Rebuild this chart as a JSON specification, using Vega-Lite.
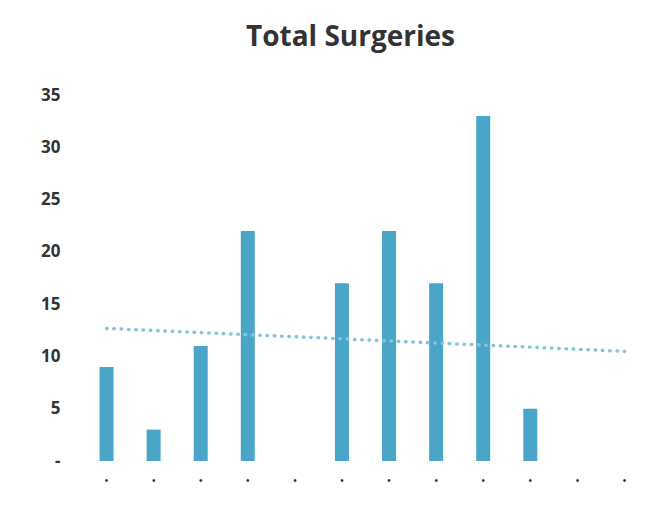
{
  "$schema": "https://vega.github.io/schema/vega-lite/v6.json",
  "width": 565,
  "height": 366,
  "autosize": {"type": "none"},
  "padding": {"left": 83, "top": 95, "right": 21, "bottom": 45},
  "background": "white",
  "config": {"view": {"stroke": null}},
  "title": {
    "text": "Total Surgeries",
    "font": "Open Sans",
    "fontSize": 28,
    "fontWeight": "bold",
    "color": "#333333",
    "anchor": "middle",
    "dx": -15,
    "offset": 34
  },
  "data": {
    "values": [
      {"m": 1, "surgeries": 9},
      {"m": 2, "surgeries": 3},
      {"m": 3, "surgeries": 11},
      {"m": 4, "surgeries": 22},
      {"m": 5, "surgeries": 0},
      {"m": 6, "surgeries": 17},
      {"m": 7, "surgeries": 22},
      {"m": 8, "surgeries": 17},
      {"m": 9, "surgeries": 33},
      {"m": 10, "surgeries": 5},
      {"m": 11, "surgeries": 0},
      {"m": 12, "surgeries": 0}
    ]
  },
  "encoding": {
    "x": {
      "field": "m",
      "type": "ordinal",
      "scale": {"paddingInner": 0.2, "paddingOuter": 0.1},
      "axis": {
        "title": null,
        "domain": false,
        "ticks": false,
        "labelAngle": 0,
        "labelExpr": "'•'",
        "labelFontSize": 10,
        "labelColor": "#333333",
        "labelPadding": 14
      }
    }
  },
  "layer": [
    {
      "mark": {"type": "bar", "size": 14, "color": "#4aa6c8"},
      "encoding": {
        "y": {
          "field": "surgeries",
          "type": "quantitative",
          "scale": {"domain": [0, 35], "nice": false},
          "axis": {
            "title": null,
            "domain": false,
            "ticks": false,
            "grid": false,
            "values": [0, 5, 10, 15, 20, 25, 30, 35],
            "labelExpr": "datum.value == 0 ? '-' : datum.label",
            "labelFont": "Open Sans",
            "labelFontSize": 17,
            "labelFontWeight": "bold",
            "labelColor": "#333333",
            "labelPadding": 23
          }
        }
      }
    },
    {
      "transform": [
        {"regression": "surgeries", "on": "m", "extent": [1, 12]}
      ],
      "mark": {
        "type": "line",
        "color": "#86c4db",
        "strokeWidth": 3.5,
        "strokeDash": [0.5, 6.8],
        "strokeCap": "round"
      },
      "encoding": {
        "y": {"field": "surgeries", "type": "quantitative"}
      }
    }
  ]
}
